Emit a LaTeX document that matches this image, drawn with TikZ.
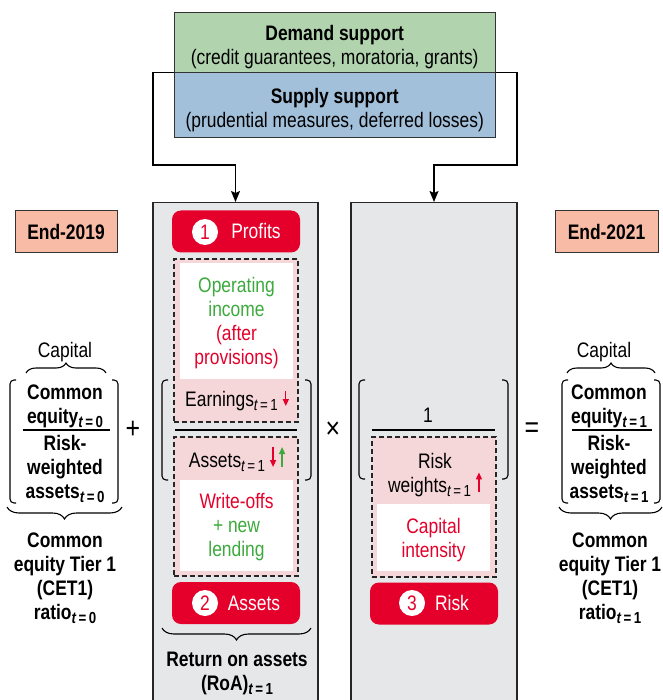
\documentclass[tikz,border=0pt]{standalone}
\usepackage{fontspec}
\setmainfont{Liberation Sans}[FakeStretch=0.83]
\usetikzlibrary{arrows.meta,decorations.pathreplacing}
\definecolor{imfred}{HTML}{E4002B}
\definecolor{imfgreen}{HTML}{3DAA3D}
\definecolor{pinkfill}{HTML}{F5D6D9}
\definecolor{panelgray}{HTML}{E6E7E9}
\definecolor{salmon}{HTML}{F8BBA5}
\definecolor{demgreen}{HTML}{B1D4AF}
\definecolor{supblue}{HTML}{A3C0DA}
\newcommand\tsub[1]{\raisebox{-4pt}{\fontsize{16}{16}\selectfont\itshape t\hspace{2.5pt}\upshape=\hspace{2.5pt}#1}}
\newcommand\uparr[1]{\tikz[baseline=0pt]\draw[#1,line width=1.3pt,-{Triangle[length=7pt,width=6pt]}] (0pt,0pt) -- (0pt,20pt);}
\newcommand\dnarr[2]{\tikz[baseline=0pt]\draw[#1,line width=1.3pt,-{Triangle[length=7pt,width=6pt]}] (0pt,#2) -- (0pt,0pt);}
\begin{document}
\fontsize{21}{24}\selectfont
\begin{tikzpicture}[x=1pt,y=-1pt,
  panel/.style={draw=black!85,line width=1.1pt,fill=panelgray,inner sep=0},
  topbox/.style={draw=black!80,line width=1pt,inner sep=0,minimum width=321pt},
  btn/.style={fill=imfred,rounded corners=9pt,minimum width=128pt,minimum height=42pt,inner sep=0},
  num/.style={circle,fill=white,text=imfred,minimum size=26pt,inner sep=0},
  btnlbl/.style={anchor=base,text=white,inner sep=0},
  dbox/.style={draw=black!85,fill=pinkfill,line width=1.2pt,dash pattern=on 5pt off 3pt,minimum width=124pt,inner sep=0},
  wbox/.style={fill=white,minimum width=113pt,inner sep=0},
  tl/.style={align=center,inner sep=0},
  endbox/.style={draw=black!80,line width=1pt,fill=salmon,minimum width=102pt,minimum height=42pt,inner sep=0,font=\bfseries},
  brk/.style={line width=1.1pt,rounded corners=4pt},
  brc/.style={decorate,decoration={brace,amplitude=#1},line width=1.1pt},
  frac/.style={line width=1.1pt},
  conn/.style={line width=1.3pt,-{Stealth[length=11pt,width=9pt,inset=2pt]}},
  op/.style={inner sep=0,font=\fontsize{30}{30}\selectfont}]
\useasboundingbox (0,0) rectangle (662,700);
% panels
\node[panel,minimum width=165pt,minimum height=520pt,anchor=north] (panA) at (235.5,202) {};
\node[panel,minimum width=166pt,minimum height=520pt,anchor=north] (panB) at (434,202) {};
% top boxes
\node[topbox,fill=demgreen,minimum height=60.5pt] (dem) at (334.7,42.8) {};
\node[topbox,fill=supblue,minimum height=65pt] (sup) at (334.7,105.5) {};
\node[tl,anchor=north] (demT) at (334.7,25) {\textbf{Demand support}\\(credit guarantees, moratoria, grants)};
\node[tl,anchor=north] (supT) at (334.7,88) {\textbf{Supply support}\\(prudential measures, deferred losses)};
% connectors
\coordinate (jl) at (153,165);
\coordinate (jr) at (517,165);
\draw[conn] (sup.north west) -| (jl) -| (panA.north);
\draw[conn] (sup.north east) -| (jr) -| (panB.north);
% ---- panel A
\node[btn] (b1) at (236,231.5) {};
\node[num] (n1) at (205,232) {1};
\node[btnlbl] (l1) at (256,239) {Profits};
\node[dbox,minimum height=163pt] (d1) at (236,340.5) {};
\node[wbox,minimum height=116pt] (w1) at (236.5,321) {};
\node[tl,anchor=north] (opinc) at (236.5,277) {\textcolor{imfgreen}{Operating}\\\textcolor{imfgreen}{income}\\\textcolor{imfred}{(after}\\\textcolor{imfred}{provisions)}};
\node[anchor=base,inner sep=0] (earn) at (237,406) {Earnings\tsub{1}\hspace{5pt}\dnarr{imfred}{15pt}};
\draw[frac] (175,430) -- (297,430);
\node[dbox,minimum height=139pt] (d2) at (236,506.5) {};
\node[wbox,minimum height=91pt] (w2) at (236.5,525.5) {};
\node[anchor=base,inner sep=0] (assets) at (237,467) {Assets\tsub{1}\hspace{5pt}\dnarr{imfred}{20pt}\hspace{3pt}\uparr{imfgreen}};
\node[tl,anchor=north] (wo) at (236.5,493) {\textcolor{imfred}{Write-offs}\\\textcolor{imfgreen}{+ new}\\\textcolor{imfgreen}{lending}};
\node[btn] (b2) at (236,603) {};
\node[num] (n2) at (205,603) {2};
\node[btnlbl] (l2) at (254,610.5) {Assets};
\draw[brk] (168,380) -- (162,380) -- (162,480) -- (168,480);
\draw[brk] (305,380) -- (311,380) -- (311,480) -- (305,480);
\draw[brc=12pt] (311,628) -- (162,628);
\node[tl,anchor=north,font=\bfseries] (roa) at (237,652) {Return on assets\\(RoA)\tsub{1}};
% ---- panel B
\draw[brk] (365,380) -- (359,380) -- (359,479) -- (365,479);
\draw[brk] (502,380) -- (508,380) -- (508,479) -- (502,479);
\node[anchor=base,inner sep=0] (one) at (428,422) {1};
\draw[frac] (372,430) -- (495,430);
\node[dbox,minimum height=140pt] (d3) at (434,507) {};
\node[wbox,minimum height=67pt] (w3) at (433.5,537.5) {};
\node[tl,anchor=north] (rw) at (435,453) {Risk\\weights\tsub{1}\hspace{5pt}\uparr{imfred}};
\node[tl,anchor=north] (ci) at (433.5,518) {\textcolor{imfred}{Capital}\\\textcolor{imfred}{intensity}};
\node[btn] (b3) at (434,603.5) {};
\node[num] (n3) at (412,603) {3};
\node[btnlbl] (l3) at (452,610.5) {Risk};
% ---- operators
\node[op] (plus) at (133,430) {+};
\node[op] (times) at (333,430) {×};
\node[op] (eq) at (532,430) {=};
% ---- left side
\node[endbox] (e19) at (66,232) {End-2019};
\node[anchor=base,inner sep=0] (capL) at (65,357) {Capital};
\draw[brc=10pt] (26,373) -- (106,373);
\draw[brk] (16,380) -- (10,380) -- (10,503) -- (16,503);
\draw[brk] (112,380) -- (118,380) -- (118,503) -- (112,503);
\node[tl,anchor=north,font=\bfseries] (numL) at (65,385) {Common\\equity\tsub{0}};
\draw[frac] (23,430) -- (110,430);
\node[tl,anchor=north,font=\bfseries] (denL) at (65,435) {Risk-\\weighted\\assets\tsub{0}};
\draw[brc=12pt] (122,507) -- (7,507);
\node[tl,anchor=north,font=\bfseries] (cetL) at (65,533) {Common\\equity Tier 1\\(CET1)\\ratio\tsub{0}};
% ---- right side
\node[endbox,minimum width=103pt] (e21) at (606.5,232) {End-2021};
\node[anchor=base,inner sep=0] (capR) at (604,357) {Capital};
\draw[brc=10pt] (567,373) -- (655,373);
\draw[brk] (568,380) -- (562,380) -- (562,503) -- (568,503);
\draw[brk] (654,380) -- (660,380) -- (660,503) -- (654,503);
\node[tl,anchor=north,font=\bfseries] (numR) at (609,385) {Common\\equity\tsub{1}};
\draw[frac] (572,430) -- (652,430);
\node[tl,anchor=north,font=\bfseries] (denR) at (609,435) {Risk-\\weighted\\assets\tsub{1}};
\draw[brc=12pt] (662,507) -- (559,507);
\node[tl,anchor=north,font=\bfseries] (cetR) at (610,533) {Common\\equity Tier 1\\(CET1)\\ratio\tsub{1}};
\end{tikzpicture}
\end{document}
